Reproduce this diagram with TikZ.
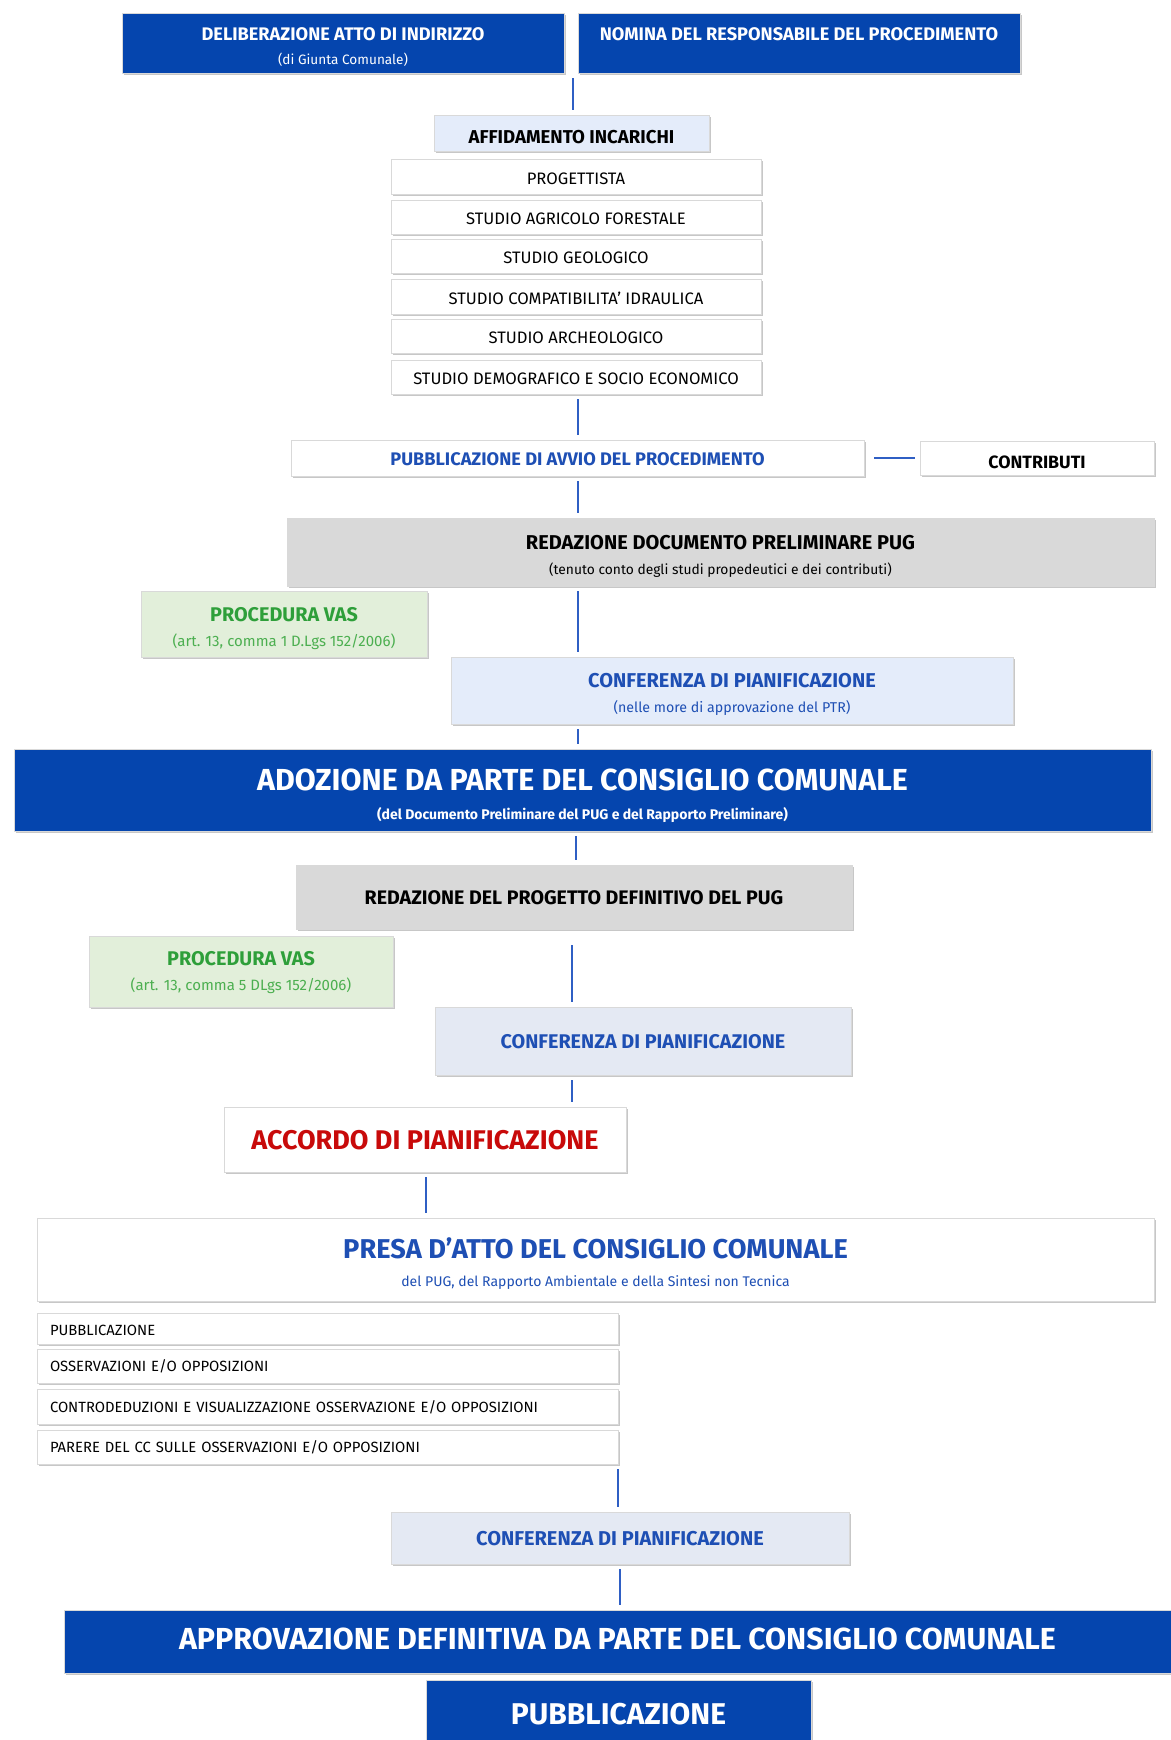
\documentclass[tikz,border=0pt]{standalone}
\usepackage{fontspec}
\setmainfont{Fira Sans}
\usetikzlibrary{shadows}
\definecolor{pugblue}{HTML}{0545AE}
\definecolor{txtblue}{HTML}{1E4FB4}
\definecolor{lineblue}{HTML}{2F5FC4}
\definecolor{lightblue}{HTML}{E4ECFA}
\definecolor{paleblue}{HTML}{E4E9F3}
\definecolor{boxgray}{HTML}{D9D9D9}
\definecolor{vasgreen}{HTML}{E2EFDA}
\definecolor{vastext}{HTML}{2E9F3A}
\definecolor{vassub}{HTML}{4CAF50}
\definecolor{accred}{HTML}{C80A0A}
\newcommand\fsz[1]{\fontsize{#1pt}{#1pt}\selectfont}
% \bx[text shift down, px]{name}{x1}{y1}{x2}{y2}{box style}{text style}{text}
\newcommand\bx[8][0]{%
  \node[#6, minimum width={(#4-#2)*0.5pt}, minimum height={(#5-#3)*0.5pt}] (#2) at ({(#3+#5)/2},{(#4+#6)/2}) {};}
\newcommand\bxt[9][0]{%
  \node[#7, minimum width={(#5-#3)*0.5pt}, minimum height={(#6-#4)*0.5pt}] (#2) at ({(#3+#5)/2},{(#4+#6)/2}) {};
  \node[txt, #8] (#2-t) at ({(#3+#5)/2},{(#4+#6)/2+#1}) {#9};}
\tikzset{
  base/.style={inner sep=0pt, outer sep=0pt, draw=black!15, line width=0.4pt,
    general shadow={fill=black!22, shadow xshift=1.2pt, shadow yshift=-1.2pt}},
  txt/.style={inner sep=0pt, outer sep=0pt, align=center},
  darkbox/.style={base, fill=pugblue},
  whitebox/.style={base, fill=white},
  graybox/.style={base, fill=boxgray},
  confbox/.style={base, fill=paleblue},
  lconfbox/.style={base, fill=lightblue},
  vasbox/.style={base, fill=vasgreen},
  wtxt/.style={text=white, font=\bfseries},
  btxt/.style={text=txtblue, font=\bfseries},
  ktxt/.style={text=black, font=\bfseries},
  gtxt/.style={text=vastext, font=\bfseries},
  listtxt/.style={text width=277.5pt, align=left, font=\fsz{7.4}},
  studytxt/.style={font=\fsz{8.3}},
  conn/.style={draw=lineblue, line width=0.7pt, shorten <=2.5pt, shorten >=2.5pt},
}
\begin{document}
\begin{tikzpicture}[x=0.5pt, y=-0.5pt]
\useasboundingbox (0,0) rectangle (1171,1740);
\fill[white] (0,0) rectangle (1171,1740);
\bxt[4.4]{delib}{122}{13}{564}{73}{darkbox}{wtxt}{\fsz{9.1}DELIBERAZIONE ATTO DI INDIRIZZO\\[0pt]{\fsz{6.8}\mdseries(di Giunta Comunale)}}
\bxt[4.4]{nomina}{578}{13}{1020}{73}{darkbox}{wtxt}{\fsz{9.1}NOMINA DEL RESPONSABILE DEL PROCEDIMENTO\\[0pt]{\fsz{6.8}\phantom{(di Giunta Comunale)}}}
\bxt[4.4]{aff}{434}{115}{709}{151}{lconfbox}{ktxt, font=\bfseries\fsz{9.3}}{AFFIDAMENTO INCARICHI}
\bxt[2.2]{s1}{391}{159}{761}{194}{whitebox}{studytxt}{PROGETTISTA}
\bxt[2.2]{s2}{391}{200}{761}{234}{whitebox}{studytxt}{STUDIO AGRICOLO FORESTALE}
\bxt[2.2]{s3}{391}{239}{761}{273}{whitebox}{studytxt}{STUDIO GEOLOGICO}
\bxt[2.2]{s4}{391}{279}{761}{314}{whitebox}{studytxt}{STUDIO COMPATIBILITA’ IDRAULICA}
\bxt[2.2]{s5}{391}{319}{761}{353}{whitebox}{studytxt}{STUDIO ARCHEOLOGICO}
\bxt[2.2]{s6}{391}{360}{761}{394}{whitebox}{studytxt}{STUDIO DEMOGRAFICO E SOCIO ECONOMICO}
\bxt[1]{avvio}{291}{440}{864}{476}{whitebox}{btxt, font=\bfseries\fsz{9.1}}{PUBBLICAZIONE DI AVVIO DEL PROCEDIMENTO}
\bxt[4.4]{contr}{920}{441}{1154}{475}{whitebox}{ktxt, font=\bfseries\fsz{8.9}}{CONTRIBUTI}
\bxt[4]{redoc}{287}{518}{1154}{586}{graybox}{ktxt}{\fsz{10}REDAZIONE DOCUMENTO PRELIMINARE PUG\\[0.5pt]{\fsz{6.9}\mdseries(tenuto conto degli studi propedeutici e dei contributi)}}
\bxt[4.4]{vas1}{141}{591}{427}{657}{vasbox}{gtxt}{\fsz{9.9}PROCEDURA VAS\\[0.5pt]{\fsz{7.5}\mdseries\color{vassub}(art. 13, comma 1 D.Lgs 152/2006)}}
\bxt[4.4]{conf1}{451}{657}{1013}{724}{lconfbox}{btxt}{\fsz{10}CONFERENZA DI PIANIFICAZIONE\\[0.5pt]{\fsz{7.1}\mdseries(nelle more di approvazione del PTR)}}
\bxt[6]{adoz}{14}{749}{1151}{831}{darkbox}{wtxt}{\fsz{15.2}ADOZIONE DA PARTE DEL CONSIGLIO COMUNALE\\[2.5pt]{\fsz{7}(del Documento Preliminare del PUG e del Rapporto Preliminare)}}
\bxt[1]{redprog}{296}{865}{852}{929}{graybox}{ktxt}{\fsz{9.8}REDAZIONE DEL PROGETTO DEFINITIVO DEL PUG}
\bxt[1]{vas2}{89}{936}{393}{1007}{vasbox}{gtxt}{\fsz{9.9}PROCEDURA VAS\\[0.5pt]{\fsz{7.5}\mdseries\color{vassub}(art. 13, comma 5 DLgs 152/2006)}}
\bxt[1]{conf2}{435}{1007}{851}{1075}{confbox}{btxt}{\fsz{9.9}CONFERENZA DI PIANIFICAZIONE}
\bxt[1]{accordo}{224}{1107}{626}{1172}{whitebox}{text=accred, font=\bfseries\fsz{13.5}}{ACCORDO DI PIANIFICAZIONE}
\bxt[4.4]{presa}{37}{1218}{1154}{1301}{whitebox}{text=txtblue}{{\bfseries\fsz{13.6}PRESA D’ATTO DEL CONSIGLIO COMUNALE}\\[2pt]{\fsz{7}del PUG, del Rapporto Ambientale e della Sintesi non Tecnica}}
\bxt[2]{l1}{37}{1313}{618}{1344}{whitebox}{listtxt}{PUBBLICAZIONE}
\bxt[0.5]{l2}{37}{1349}{618}{1383}{whitebox}{listtxt}{OSSERVAZIONI E/O OPPOSIZIONI}
\bxt[1]{l3}{37}{1389}{618}{1424}{whitebox}{listtxt}{CONTRODEDUZIONI E VISUALIZZAZIONE OSSERVAZIONE E/O OPPOSIZIONI}
\bxt[0.5]{l4}{37}{1430}{618}{1464}{whitebox}{listtxt}{PARERE DEL CC SULLE OSSERVAZIONI E/O OPPOSIZIONI}
\bxt[1]{conf3}{391}{1512}{849}{1564}{confbox}{btxt}{\fsz{10}CONFERENZA DI PIANIFICAZIONE}
\bxt[-2.2]{approv}{64}{1610}{1171}{1673}{darkbox}{wtxt}{\fsz{15.2}APPROVAZIONE DEFINITIVA DA PARTE DEL CONSIGLIO COMUNALE}
\bxt[1]{pubfin}{426}{1680}{811}{1746}{darkbox}{wtxt}{\fsz{15}PUBBLICAZIONE}
% connectors
\draw[conn] (573,0 |- delib.south) -- (573,0 |- aff.north);
\draw[conn] (578,0 |- s6.south) -- (578,0 |- avvio.north);
\draw[conn, shorten <=5pt] (avvio.east) -- (contr.west);
\draw[conn] (578,0 |- avvio.south) -- (578,0 |- redoc.north);
\draw[conn] (578,0 |- redoc.south) -- (578,0 |- conf1.north);
\draw[conn] (578,0 |- conf1.south) -- (578,0 |- adoz.north);
\draw[conn] (576,0 |- adoz.south) -- (576,0 |- redprog.north);
\draw[conn, shorten <=8pt] (572,0 |- redprog.south) -- (572,0 |- conf2.north);
\draw[conn] (572,0 |- conf2.south) -- (572,0 |- accordo.north);
\draw[conn] (426,0 |- accordo.south) -- (426,0 |- presa.north);
\draw[conn] (618,0 |- l4.south) -- (618,0 |- conf3.north);
\draw[conn] (620,0 |- conf3.south) -- (620,0 |- approv.north);
\end{tikzpicture}
\end{document}
